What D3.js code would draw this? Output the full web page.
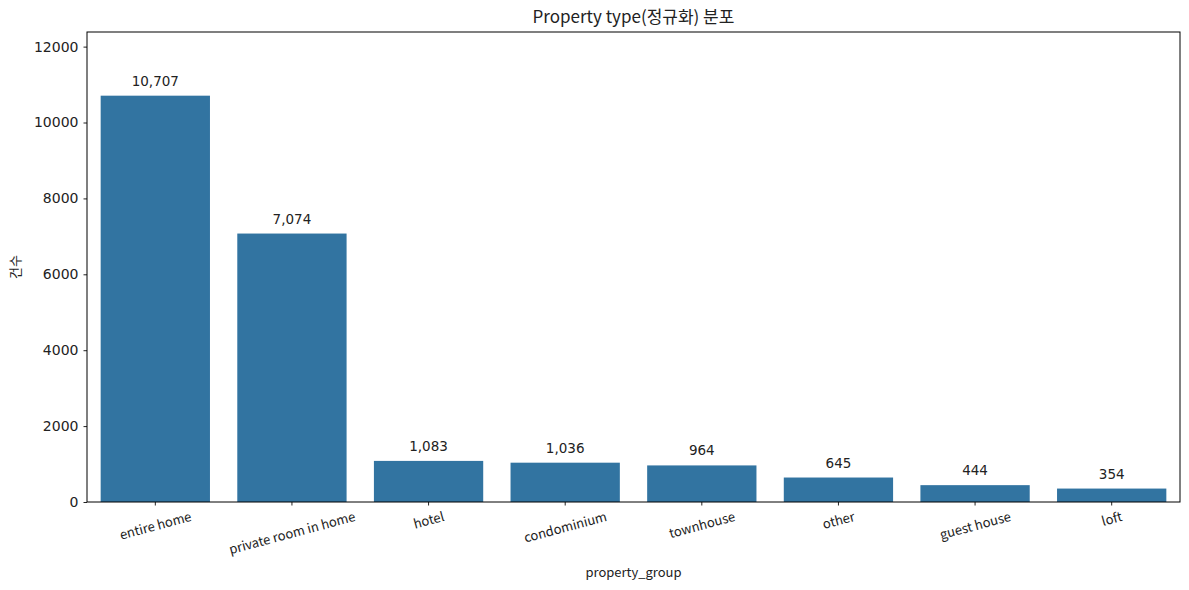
<!DOCTYPE html>
<html><head><meta charset="utf-8">
<script src="https://cdn.jsdelivr.net/npm/d3@7"></script>
<style>body{margin:0;background:#fff;} text{font-family:"Noto Sans CJK KR","DejaVu Sans",sans-serif;fill:#222;} .num{font-family:"DejaVu Sans",sans-serif;}</style>
</head><body><svg id="c" width="1189" height="590"></svg>
<script>
const categories = ["entire home","private room in home","hotel","condominium","townhouse","other","guest house","loft"];
const counts = [10707,7074,1083,1036,964,645,444,354];
const yTicks = [0,2000,4000,6000,8000,10000,12000];
const title = "Property type(정규화) 분포";
const xLabel = "property_group";
const yLabel = "건수";

const svg = d3.select("#c");
const L=87, R=1180, T=32, B=502;
const x = d3.scaleBand().domain(categories).range([L,R]).paddingInner(0.2).paddingOuter(0.1);
const y = d3.scaleLinear().domain([0,12385]).range([B,T]);

svg.selectAll("rect.bar").data(categories).enter().append("rect")
  .attr("x", d=>x(d)).attr("width", x.bandwidth())
  .attr("y", (d,i)=>y(counts[i])).attr("height",(d,i)=>B-y(counts[i]))
  .attr("fill","#3274a1");

svg.selectAll("text.val").data(categories).enter().append("text")
  .attr("class","num")
  .attr("x", d=>x(d)+x.bandwidth()/2).attr("y",(d,i)=>y(counts[i])-10)
  .attr("text-anchor","middle").attr("font-size","13.5px")
  .text((d,i)=>d3.format(",")(counts[i]));

// y axis
const ya = svg.append("g").attr("transform",`translate(${L},0)`)
  .call(d3.axisLeft(y).tickValues(yTicks).tickSize(3.5).tickPadding(5).tickFormat(d3.format("d")));
ya.selectAll("text").attr("class","num").attr("font-size","14px").style("fill","#222");
ya.select(".domain").remove();
ya.selectAll("line").attr("stroke","#222");

// x axis ticks
const xa = svg.append("g").attr("transform",`translate(0,${B})`)
  .call(d3.axisBottom(x).tickSize(3.5).tickFormat(""));
xa.select(".domain").remove();
xa.selectAll("line").attr("stroke","#222");

// rotated tick labels
svg.selectAll("text.xt").data(categories).enter().append("text")
  .attr("class","xt").attr("font-size","13px").attr("text-anchor","middle")
  .attr("dominant-baseline","central").text(d=>d)
  .each(function(d){
    const w = this.getComputedTextLength();
    const a = 15*Math.PI/180;
    const h = w*Math.sin(a)+13*Math.cos(a);
    const cx = x(d)+x.bandwidth()/2, cy = B+7+h/2;
    d3.select(this).attr("x",cx).attr("y",cy).attr("transform",`rotate(-15,${cx},${cy})`);
  });

// frame
svg.append("rect").attr("x",L).attr("y",T).attr("width",R-L).attr("height",B-T)
  .attr("fill","none").attr("stroke","#000").attr("stroke-width",1);

svg.append("text").attr("x",(L+R)/2).attr("y",23).attr("text-anchor","middle").attr("font-size","17px").text(title);
svg.append("text").attr("x",(L+R)/2).attr("y",577).attr("text-anchor","middle").attr("font-size","13px").text(xLabel);
svg.append("text").attr("transform",`translate(20,${(T+B)/2}) rotate(-90)`).attr("text-anchor","middle").attr("font-size","13px").text(yLabel);
</script></body></html>
